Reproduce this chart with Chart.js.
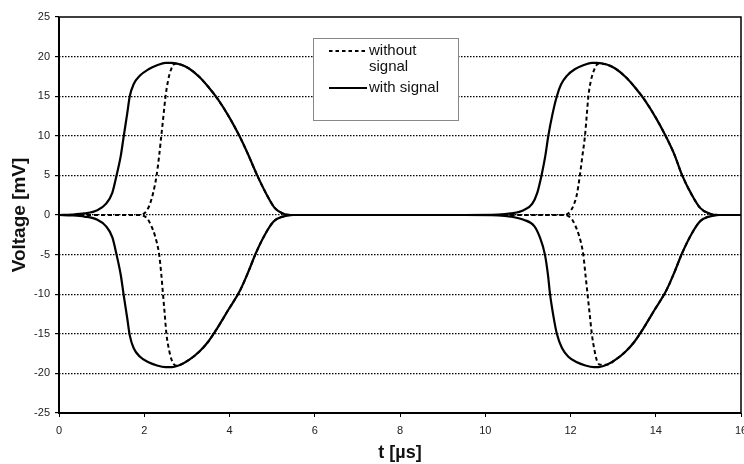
<!DOCTYPE html>
<html><head><meta charset="utf-8">
<script src="https://cdn.jsdelivr.net/npm/chart.js@4"></script>
<style>html,body{margin:0;padding:0;background:#fff}</style>
</head><body>
<canvas id="c" width="744" height="464"></canvas>
<script>
const seriesLabels = ['without signal', 'with signal'];
const legendLines = [['without', 'signal'], ['with signal']];
const xTicks = [0, 2, 4, 6, 8, 10, 12, 14, 16];
const yTicks = [-25, -20, -15, -10, -5, 0, 5, 10, 15, 20, 25];
const xTitle = 't [\u00b5s]';
const yTitle = 'Voltage [mV]';

const tWithUpper = [0,0.3,0.6,0.9,1.1,1.25,1.35,1.45,1.52,1.6,1.66,1.75,1.9,2.1,2.3,2.5,2.65,2.85,3.05,3.3,3.5,3.73,4.0,4.24,4.44,4.65,4.87,5.06,5.25,5.5,
  9.5,
  10.3,10.6,10.9,11.1,11.22,11.32,11.41,11.48,11.58,11.68,11.78,11.92,12.1,12.3,12.5,12.62,12.85,13.05,13.3,13.5,13.73,14.0,14.24,14.44,14.62,14.84,15.04,15.25,15.5,16];
const vWithUpper = [0,0.05,0.2,0.6,1.4,2.8,5,7.5,10,12.8,15,16.5,17.6,18.4,18.9,19.2,19.2,19.0,18.5,17.4,16.2,14.6,12.3,9.9,7.6,5.0,2.6,0.9,0.2,0,
  0,
  0.05,0.2,0.6,1.4,2.8,5,7.5,10,12.8,15,16.5,17.6,18.4,18.9,19.2,19.2,19.0,18.5,17.4,16.2,14.6,12.3,9.9,7.6,5.0,2.6,0.9,0.2,0,0];

const tWithLower = [0,0.3,0.6,0.9,1.1,1.25,1.35,1.45,1.52,1.6,1.66,1.75,1.9,2.1,2.3,2.5,2.65,2.85,3.05,3.3,3.5,3.7,3.97,4.25,4.44,4.62,4.84,5.04,5.25,5.5,
  9.5,
  10.3,10.6,10.9,11.15,11.28,11.4,11.47,11.52,11.6,11.68,11.8,11.95,12.15,12.35,12.55,12.65,12.85,13.05,13.3,13.5,13.7,13.97,14.25,14.44,14.62,14.84,15.04,15.25,15.5,16];
const vWithLower = [0,-0.05,-0.2,-0.6,-1.4,-2.8,-5,-7.6,-10.2,-13,-15.2,-16.8,-17.9,-18.6,-19.0,-19.2,-19.2,-18.9,-18.3,-17.2,-16.0,-14.4,-12.0,-9.5,-7.2,-4.8,-2.4,-0.8,-0.2,0,
  0,
  -0.05,-0.2,-0.6,-1.4,-2.8,-5,-7.5,-10,-12.8,-15,-16.8,-17.9,-18.6,-19.0,-19.2,-19.2,-18.9,-18.3,-17.2,-16.0,-14.4,-12.0,-9.5,-7.2,-4.8,-2.4,-0.8,-0.2,0,0];

const tWithoutUpper = [0,1.9,2.0,2.05,2.12,2.2,2.29,2.35,2.4,2.45,2.5,2.56,2.63,2.72,
  2.85,3.05,3.3,3.5,3.73,4.0,4.24,4.44,4.65,4.87,5.06,5.25,5.5,
  9.5,
  11.85,11.95,12.0,12.07,12.15,12.22,12.28,12.34,12.38,12.42,12.48,12.56,12.65,
  12.85,13.05,13.3,13.5,13.73,14.0,14.24,14.44,14.62,14.84,15.04,15.25,15.5,16];
const vWithoutUpper = [0,0,0.2,0.5,1.2,2.6,5,7.5,10,12.5,15,17,18.4,19.1,
  19.0,18.5,17.4,16.2,14.6,12.3,9.9,7.6,5.0,2.6,0.9,0.2,0,
  0,
  0,0.2,0.5,1.2,2.6,5,7.5,10,12.5,15,17,18.4,19.1,
  19.0,18.5,17.4,16.2,14.6,12.3,9.9,7.6,5.0,2.6,0.9,0.2,0,0];

const tWithoutLower = [0,1.9,2.02,2.08,2.15,2.25,2.35,2.4,2.44,2.48,2.52,2.58,2.65,2.73,
  2.85,3.05,3.3,3.5,3.7,3.97,4.25,4.44,4.62,4.84,5.04,5.25,5.5,
  9.5,
  11.85,11.97,12.03,12.1,12.2,12.3,12.35,12.4,12.45,12.5,12.56,12.62,12.69,
  12.85,13.05,13.3,13.5,13.7,13.97,14.25,14.44,14.62,14.84,15.04,15.25,15.5,16];
const vWithoutLower = [0,0,-0.2,-0.5,-1.2,-2.6,-5,-7.5,-10,-12.5,-15,-17,-18.4,-19.0,
  -18.9,-18.3,-17.2,-16.0,-14.4,-12.0,-9.5,-7.2,-4.8,-2.4,-0.8,-0.2,0,
  0,
  0,-0.2,-0.5,-1.2,-2.6,-5,-7.5,-10,-12.5,-15,-17,-18.4,-18.9,
  -18.9,-18.3,-17.2,-16.0,-14.4,-12.0,-9.5,-7.2,-4.8,-2.4,-0.8,-0.2,0,0];

const pts = (ts, vs) => ts.map((t, i) => ({x: t, y: vs[i]}));
const FONT = '"Liberation Sans", Arial, sans-serif';

const solidStyle = {borderColor: '#000', borderWidth: 2.2, pointRadius: 0, cubicInterpolationMode: 'monotone', fill: false};
const dashStyle = {borderColor: '#000', borderWidth: 2, borderDash: [4, 3], pointRadius: 0, cubicInterpolationMode: 'monotone', fill: false};

const frameLegend = {
  id: 'frameLegend',
  afterDatasetsDraw(chart) {
    const {ctx, chartArea: a} = chart;
    ctx.save();
    ctx.strokeStyle = '#000';
    ctx.lineWidth = 1.5;
    ctx.beginPath();
    ctx.moveTo(a.left, a.top); ctx.lineTo(a.right, a.top); ctx.lineTo(a.right, a.bottom);
    ctx.stroke();
    ctx.lineWidth = 2;
    ctx.beginPath();
    ctx.moveTo(a.left, a.top); ctx.lineTo(a.left, a.bottom); ctx.lineTo(a.right, a.bottom);
    ctx.stroke();
    // legend box
    const bx = 313.5, by = 38.5, bw = 145, bh = 82;
    ctx.fillStyle = '#fff';
    ctx.fillRect(bx, by, bw, bh);
    ctx.strokeStyle = '#888';
    ctx.lineWidth = 1;
    ctx.strokeRect(bx, by, bw, bh);
    ctx.strokeStyle = '#000';
    ctx.fillStyle = '#111';
    ctx.font = '15px ' + FONT;
    ctx.textBaseline = 'middle';
    ctx.textAlign = 'left';
    ctx.lineWidth = 2.2;
    ctx.setLineDash([3.5, 3]);
    ctx.beginPath(); ctx.moveTo(329, 51); ctx.lineTo(367, 51); ctx.stroke();
    ctx.setLineDash([]);
    ctx.fillText(legendLines[0][0], 369, 51);
    ctx.fillText(legendLines[0][1], 369, 67);
    ctx.beginPath(); ctx.moveTo(329, 88); ctx.lineTo(367, 88); ctx.stroke();
    ctx.fillText(legendLines[1][0], 369, 88);
    ctx.restore();
  }
};

new Chart(document.getElementById('c'), {
  type: 'line',
  data: {
    datasets: [
      Object.assign({label: seriesLabels[1], data: pts(tWithUpper, vWithUpper)}, solidStyle),
      Object.assign({label: seriesLabels[1], data: pts(tWithLower, vWithLower)}, solidStyle),
      Object.assign({label: seriesLabels[0], data: pts(tWithoutUpper, vWithoutUpper)}, dashStyle),
      Object.assign({label: seriesLabels[0], data: pts(tWithoutLower, vWithoutLower)}, dashStyle)
    ]
  },
  options: {
    responsive: false,
    animation: false,
    layout: {padding: {top: 17, right: 3, bottom: 0, left: 0}},
    plugins: {legend: {display: false}, tooltip: {enabled: false}},
    scales: {
      x: {
        type: 'linear', min: 0, max: 16,
        afterBuildTicks(s) { s.ticks = xTicks.map(v => ({value: v})); },
        afterFit(s) { s.height = 51; s.paddingRight = 3; s.paddingLeft = 0; },
        border: {display: false},
        grid: {drawOnChartArea: false, tickLength: 4, tickColor: '#000', color: '#000', lineWidth: 1},
        ticks: {font: {family: FONT, size: 11}, color: '#222', padding: 7, maxRotation: 0, autoSkip: false},
        title: {display: true, text: xTitle, font: {family: FONT, size: 18, weight: 'bold'}, color: '#111', padding: {top: 0, bottom: 0}}
      },
      y: {
        type: 'linear', min: -25, max: 25,
        afterBuildTicks(s) { s.ticks = yTicks.map(v => ({value: v})); },
        afterFit(s) { s.width = 59; },
        border: {display: false, dash: [1.5, 1.5]},
        grid: {
          drawOnChartArea: true, tickLength: 4, tickColor: '#000',
          color: c => (c.tick && Math.abs(c.tick.value) === 25) ? 'rgba(0,0,0,0)' : '#000',
          lineWidth: 1.2, tickBorderDash: []
        },
        ticks: {font: {family: FONT, size: 11}, color: '#222', padding: 5, autoSkip: false},
        title: {display: true, text: yTitle, font: {family: FONT, size: 19, weight: 'bold'}, color: '#111', padding: {top: 8, bottom: 0}}
      }
    }
  },
  plugins: [frameLegend]
});
</script>
</body></html>
